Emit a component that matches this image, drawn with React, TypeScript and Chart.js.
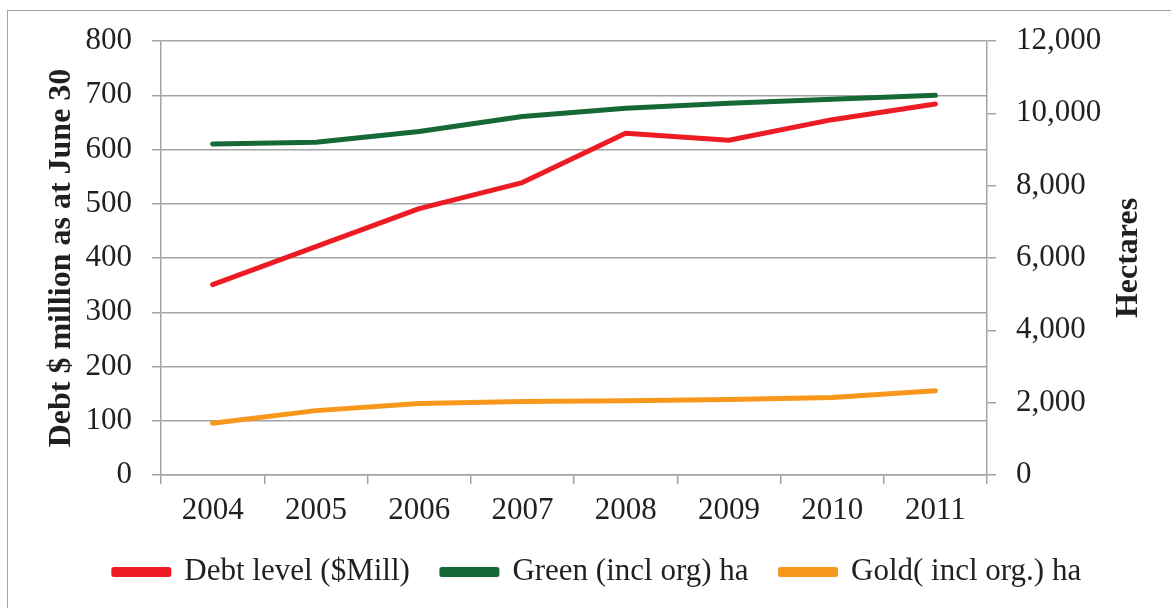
import React, { useEffect, useRef } from 'react';
import { Chart, registerables } from 'chart.js';

Chart.register(...registerables);

const years = ['2004', '2005', '2006', '2007', '2008', '2009', '2010', '2011'];
const debtLevel = [351, 421, 491, 539, 630, 617, 655, 684];
const greenHa = [9150, 9200, 9500, 9910, 10140, 10280, 10390, 10500];
const goldHa = [1430, 1780, 1980, 2030, 2050, 2090, 2140, 2330];
const seriesLabels = ['Debt level ($Mill)', 'Green (incl org) ha', 'Gold( incl org.) ha'];
const leftAxisRange = [0, 800, 100];
const rightAxisRange = [0, 12000, 2000];
const leftTitle = 'Debt $ million as at June 30';
const rightTitle = 'Hectares';

const RED = '#ED1C24';
const GREEN = '#176837';
const GOLD = '#F7981D';
const GRID = '#A3A3A3';
const TEXT = '#231F20';
const FONT = 'Liberation Serif';

const W = 1171;
const H = 608;
const PLOT_LEFT = 161;
const PLOT_RIGHT = 987;
const PLOT_TOP = 41;
const PLOT_BOTTOM = 475;
const LEGEND_CENTER_Y = 572;
const LEGEND_SHIFT_X = 12;
const LEGEND_PAD = 32;
const FS = 31;
const TITLE_FS = 32;
const RIGHT_TITLE_X = 1129;

const legendPlacer = {
  id: 'legendPlacer',
  afterLayout(chart: any) {
    const lg = chart.legend;
    if (!lg) return;
    const h = lg.height;
    lg.top = LEGEND_CENTER_Y - LEGEND_PAD - FS / 2;
    lg.bottom = lg.top + h;
    lg.left += LEGEND_SHIFT_X;
    lg.right += LEGEND_SHIFT_X;
  },
};

// Right-axis title drawn reading bottom-to-top, like the reference
const rightTitlePlugin = {
  id: 'rightTitle',
  afterDraw(chart: any) {
    const { ctx, chartArea } = chart;
    ctx.save();
    ctx.translate(RIGHT_TITLE_X, (chartArea.top + chartArea.bottom) / 2);
    ctx.rotate(-Math.PI / 2);
    ctx.font = `bold ${TITLE_FS}px "${FONT}"`;
    ctx.fillStyle = TEXT;
    ctx.textAlign = 'center';
    ctx.textBaseline = 'middle';
    ctx.fillText(rightTitle, 0, 0);
    ctx.restore();
  },
};

export default function App() {
  const ref = useRef<HTMLCanvasElement | null>(null);

  useEffect(() => {
    if (!ref.current) return;
    const chart = new Chart(ref.current, {
      type: 'line',
      data: {
        labels: years,
        datasets: [
          {
            label: seriesLabels[0],
            data: debtLevel,
            yAxisID: 'y',
            borderColor: RED,
            backgroundColor: RED,
            borderWidth: 5,
            pointRadius: 0,
            borderCapStyle: 'round',
            borderJoinStyle: 'round',
            tension: 0,
          },
          {
            label: seriesLabels[1],
            data: greenHa,
            yAxisID: 'y1',
            borderColor: GREEN,
            backgroundColor: GREEN,
            borderWidth: 5,
            pointRadius: 0,
            borderCapStyle: 'round',
            borderJoinStyle: 'round',
            tension: 0,
          },
          {
            label: seriesLabels[2],
            data: goldHa,
            yAxisID: 'y1',
            borderColor: GOLD,
            backgroundColor: GOLD,
            borderWidth: 5,
            pointRadius: 0,
            borderCapStyle: 'round',
            borderJoinStyle: 'round',
            tension: 0,
          },
        ],
      },
      options: {
        responsive: false,
        animation: false,
        devicePixelRatio: 1,
        layout: { padding: { top: PLOT_TOP, left: 0, right: 0, bottom: 0 } },
        plugins: {
          tooltip: { enabled: false },
          legend: {
            position: 'bottom',
            labels: {
              color: TEXT,
              font: { family: FONT, size: FS },
              boxWidth: 55,
              boxHeight: 5,
              padding: LEGEND_PAD,
            },
          },
        },
        scales: {
          x: {
            offset: true,
            grid: {
              display: true,
              drawOnChartArea: false,
              drawTicks: true,
              tickLength: 9,
              color: GRID,
              lineWidth: 1.5,
              offset: true,
            },
            border: { display: true, color: GRID, width: 1.5 },
            ticks: {
              color: TEXT,
              font: { family: FONT, size: FS },
              padding: 8,
              maxRotation: 0,
            },
            afterFit(scale: any) {
              scale.height = H - PLOT_BOTTOM - scale.chart.legend.height;
            },
          },
          y: {
            position: 'left',
            min: leftAxisRange[0],
            max: leftAxisRange[1],
            ticks: {
              stepSize: leftAxisRange[2],
              color: TEXT,
              font: { family: FONT, size: FS },
              padding: 20,
            },
            grid: { color: GRID, lineWidth: 1.5, tickLength: 9 },
            border: { display: true, color: GRID, width: 1.5 },
            title: {
              display: true,
              text: leftTitle,
              color: TEXT,
              font: { family: FONT, size: TITLE_FS, weight: 'bold' },
              padding: { top: 43, bottom: 0 },
            },
            afterFit(scale: any) {
              scale.width = PLOT_LEFT;
            },
          },
          y1: {
            position: 'right',
            min: rightAxisRange[0],
            max: rightAxisRange[1],
            ticks: {
              stepSize: rightAxisRange[2],
              color: TEXT,
              font: { family: FONT, size: FS },
              padding: 20,
              callback: (v: any) => Number(v).toLocaleString('en-US'),
            },
            grid: { drawOnChartArea: false, color: GRID, lineWidth: 1.5, tickLength: 9 },
            border: { display: true, color: GRID, width: 1.5 },
            title: { display: false },
            afterFit(scale: any) {
              scale.width = W - PLOT_RIGHT;
            },
          },
        },
      },
      plugins: [legendPlacer, rightTitlePlugin],
    });
    return () => chart.destroy();
  }, []);

  return (
    <div style={{ position: 'fixed', left: 0, top: 0, width: W, height: H, background: '#fff', overflow: 'hidden' }}>
      <div
        style={{
          position: 'absolute',
          left: 7,
          top: 10,
          width: W,
          height: H,
          borderLeft: '1.5px solid #A3A3A3',
          borderTop: '1.5px solid #A3A3A3',
        }}
      />
      <canvas ref={ref} width={W} height={H} style={{ position: 'absolute', left: 0, top: 0, width: W, height: H }} />
    </div>
  );
}
